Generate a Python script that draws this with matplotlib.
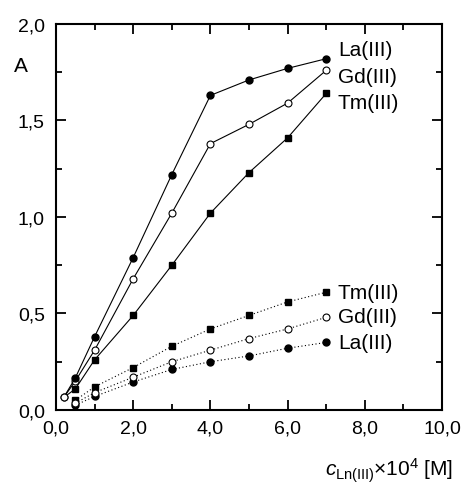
import numpy as np
import matplotlib
matplotlib.use('Agg')
import matplotlib.pyplot as plt
from matplotlib.ticker import MultipleLocator, FuncFormatter

plt.rcParams['font.family'] = ['Liberation Sans', 'DejaVu Sans']
plt.rcParams['mathtext.fontset'] = 'custom'
plt.rcParams['mathtext.rm'] = 'Liberation Sans'
plt.rcParams['mathtext.it'] = 'Liberation Sans:italic'

# Concentration x 10^4 [M]
conc = [0.2, 0.5, 1, 2, 3, 4, 5, 6, 7]
conc_low = [0.5, 1, 2, 3, 4, 5, 6, 7]

# Upper (solid) series, all starting from the common first point
la_hi = [0.065, 0.166, 0.38, 0.79, 1.22, 1.63, 1.71, 1.77, 1.82]
gd_hi = [0.065, 0.15, 0.31, 0.68, 1.02, 1.38, 1.48, 1.59, 1.76]
tm_hi = [0.065, 0.109, 0.26, 0.49, 0.75, 1.02, 1.23, 1.41, 1.64]

# Lower (dotted) series
tm_lo = [0.05, 0.12, 0.22, 0.33, 0.42, 0.49, 0.56, 0.61]
gd_lo = [0.035, 0.09, 0.17, 0.25, 0.31, 0.37, 0.42, 0.48]
la_lo = [0.025, 0.07, 0.145, 0.21, 0.25, 0.28, 0.32, 0.35]

fig = plt.figure(figsize=(4.64, 4.85), dpi=100)
ax = fig.add_axes([0.1207, 0.1526, 0.8319, 0.7959])

lw = 0.8
ms = 5
# Gd first so the filled La marker at 0.5 sits on top of it
ax.plot(conc, gd_hi, '-', color='black', lw=lw, marker='o', ms=ms,
        mfc='white', mew=0.8, zorder=2)
ax.plot(conc, tm_hi, '-', color='black', lw=lw, marker='s', ms=4.3,
        mfc='black', markevery=slice(1, None), zorder=3)
ax.plot(conc, la_hi, '-', color='black', lw=lw, marker='o', ms=ms,
        mfc='black', markevery=slice(1, None), zorder=3)
# the shared starting point (open circle) on top
ax.plot(conc[:1], gd_hi[:1], 'o', color='black', ms=ms, mfc='white',
        mew=0.8, zorder=4)

dot = (0, (1, 2.2))
ax.plot(conc_low, tm_lo, ls=dot, color='black', lw=lw, marker='s', ms=4.3, mfc='black')
ax.plot(conc_low, la_lo, ls=dot, color='black', lw=lw, marker='o', ms=ms, mfc='black')
ax.plot(conc_low, gd_lo, ls=dot, color='black', lw=lw, marker='o', ms=ms,
        mfc='white', mew=0.8)

ax.set_xlim(0, 10)
ax.set_ylim(0, 2)
ax.xaxis.set_major_locator(MultipleLocator(2))
ax.xaxis.set_minor_locator(MultipleLocator(1))
ax.yaxis.set_major_locator(MultipleLocator(0.5))
ax.yaxis.set_minor_locator(MultipleLocator(0.25))
comma = FuncFormatter(lambda v, p: '{:.1f}'.format(v).replace('.', ','))
ax.xaxis.set_major_formatter(comma)
ax.yaxis.set_major_formatter(comma)

ax.tick_params(which='both', direction='in', top=True, right=True, width=1.3)
ax.tick_params(which='major', length=7, labelsize=14)
ax.tick_params(axis='x', which='major', pad=7)
ax.tick_params(axis='y', which='major', pad=8)
ax.tick_params(which='minor', length=4.5)
for s in ax.spines.values():
    s.set_linewidth(1.5)

fs = 15
for name, y in [('La(III)', 1.87), ('Gd(III)', 1.73), ('Tm(III)', 1.595)]:
    ax.text(7.3, y, name, fontsize=fs, va='center', ha='left')
for name, y in [('Tm(III)', 0.61), ('Gd(III)', 0.485), ('La(III)', 0.35)]:
    ax.text(7.3, y, name, fontsize=fs, va='center', ha='left')

fig.text(0.045, 0.862, 'A', fontsize=fs, ha='center', va='center')
fig.text(0.977, 0.03, r'$c_{\rm Ln(III)}$×10$^4$ [M]', fontsize=fs,
         ha='right', va='center')

fig.savefig('out.png', dpi=100)
